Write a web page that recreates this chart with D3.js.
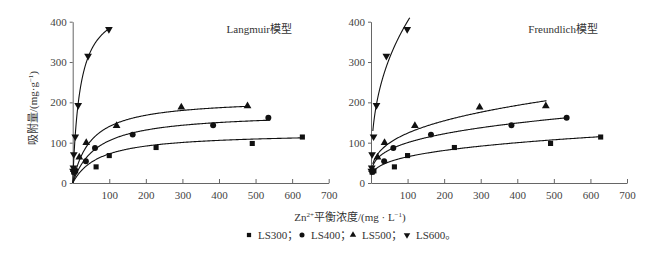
<!DOCTYPE html>
<html>
<head>
<meta charset="utf-8">
<script src="https://cdn.jsdelivr.net/npm/d3@7"></script>
<style>
  body { margin: 0; background: #fff; }
  svg text { font-family: "Liberation Serif", "Noto Sans CJK SC", serif; fill: #333; }
  .axis path, .axis line { stroke: #666; }
  .axis text { font-size: 11px; fill: #444; }
</style>
</head>
<body>
<div id="chart"></div>
<script>
// adsorption isotherms: Langmuir / Freundlich
const series = ["LS300", "LS400", "LS500", "LS600"];
const symbols = ["square", "circle", "triangle", "down"];

// equilibrium concentration Ce (mg/L) and uptake qe (mg/g)
const ce300 = [3, 8, 64, 100, 228, 491, 628];
const qe300 = [27, 30, 40, 68, 88, 98, 114];
const ce400 = [4, 36, 61, 164, 384, 535];
const qe400 = [28, 54, 87, 120, 143, 162];
const ce500 = [3, 18, 37, 120, 297, 478];
const qe500 = [33, 64, 100, 142, 188, 191];
const ce600 = [1, 2, 3, 7, 15, 42, 99];
const qe600 = [30, 38, 71, 115, 193, 315, 381];

// fitted parameters
const langQm = [125, 175, 210, 460];
const langK = [0.0137, 0.015, 0.02, 0.05];
const freKf = [15.6, 26.8, 28.3, 70];
const freN = [0.31, 0.286, 0.32, 0.379];
const fitEnd = [630, 540, 480, 103];
const freEnd = [630, 540, 480, 106];

const xTicks = [0, 100, 200, 300, 400, 500, 600, 700];
const yTicks = [0, 100, 200, 300, 400];

const points = [
  d3.zip(ce300, qe300), d3.zip(ce400, qe400),
  d3.zip(ce500, qe500), d3.zip(ce600, qe600)
];

const width = 668, height = 255;
const svg = d3.select("#chart").append("svg")
  .attr("width", width).attr("height", height);

const panels = [
  { left: 72.7, title: "Langmuir模型", titleX: 292,
    model: (i, c) => langQm[i] * langK[i] * c / (1 + langK[i] * c), start: 0, end: fitEnd },
  { left: 371, title: "Freundlich模型", titleX: 598,
    model: (i, c) => freKf[i] * Math.pow(c, freN[i]), start: 5, end: freEnd }
];

const symbolType = {
  square: d3.symbolSquare, circle: d3.symbolCircle,
  triangle: d3.symbolTriangle, down: d3.symbolTriangle
};

const fontStack = '"Liberation Serif", "Noto Sans CJK SC", serif';

panels.forEach(p => {
  const x = d3.scaleLinear().domain([0, 700]).range([p.left, p.left + 256]);
  const y = d3.scaleLinear().domain([0, 400]).range([183, 21.7]);

  svg.append("g")
    .attr("class", "axis")
    .attr("font-family", fontStack)
    .attr("transform", `translate(0,${y(0)})`)
    .call(d3.axisBottom(x).tickValues(xTicks.slice(1)).tickSizeInner(-4).tickSizeOuter(0).tickPadding(8))
    .call(g => g.selectAll(".tick line").attr("y2", -4));

  svg.append("g")
    .attr("class", "axis")
    .attr("font-family", fontStack)
    .attr("transform", `translate(${x(0)},0)`)
    .call(d3.axisLeft(y).tickValues(yTicks).tickSize(3).tickSizeOuter(0).tickPadding(3));

  svg.append("text")
    .attr("x", p.titleX).attr("y", 33)
    .attr("text-anchor", "end")
    .style("font-size", "11px")
    .text(p.title);

  const line = d3.line().x(d => x(d[0])).y(d => y(d[1]));

  series.forEach((s, i) => {
    const cs = d3.range(0, 301).map(k => p.start + (p.end[i] - p.start) * Math.pow(k / 300, 2));
    svg.append("path")
      .datum(cs.map(c => [c, p.model(i, c)]))
      .attr("fill", "none")
      .attr("stroke", "#111")
      .attr("stroke-width", 1.1)
      .attr("d", line);

    svg.append("g").selectAll("path")
      .data(points[i])
      .enter().append("path")
      .attr("transform", d => `translate(${x(d[0])},${y(d[1])})` + (symbols[i] === "down" ? " rotate(180)" : ""))
      .attr("d", d3.symbol().type(symbolType[symbols[i]]).size(symbols[i] === "circle" ? 28 : 26))
      .attr("fill", "#111");
  });
});

// axis titles
svg.append("text")
  .attr("transform", "translate(37,108) rotate(-90)")
  .attr("text-anchor", "middle")
  .style("font-size", "11px")
  .html('吸附量/(mg·g<tspan dy="-4" font-size="7">−1</tspan><tspan dy="4">)</tspan>');

svg.append("text")
  .attr("x", 350).attr("y", 221)
  .attr("text-anchor", "middle")
  .style("font-size", "11px")
  .html('Zn<tspan dy="-4" font-size="7">2+</tspan><tspan dy="4">平衡浓度/(mg · L</tspan><tspan dy="-4" font-size="7">−1</tspan><tspan dy="4">)</tspan>');

// legend
const legendText = ["LS300；", "LS400；", "LS500；", "LS600。"];
const legendSym = [249, 302, 353, 407];
const legend = svg.append("g");
series.forEach((s, i) => {
  legend.append("path")
    .attr("transform", `translate(${legendSym[i]},235)` + (symbols[i] === "down" ? " rotate(180)" : ""))
    .attr("d", d3.symbol().type(symbolType[symbols[i]]).size(symbols[i] === "circle" ? 20 : 18))
    .attr("fill", "#111");
  legend.append("text")
    .attr("x", legendSym[i] + 9).attr("y", 239)
    .style("font-size", "11px")
    .text(legendText[i]);
});
</script>
</body>
</html>
